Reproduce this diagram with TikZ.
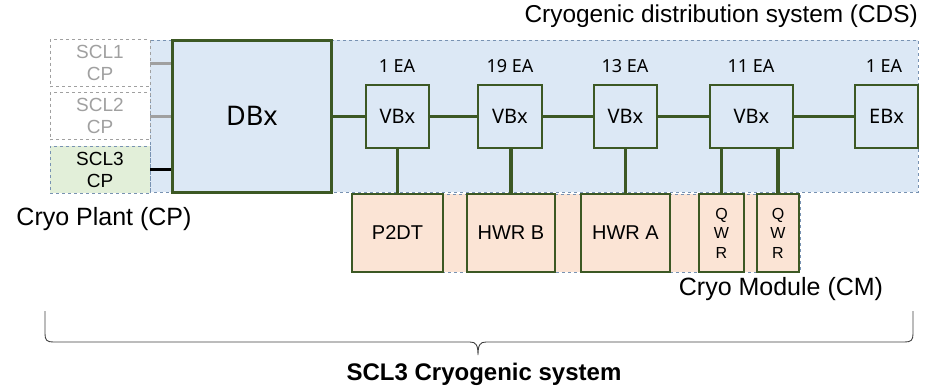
\documentclass[tikz,border=0pt]{standalone}
\usepackage{fontspec}
\setmainfont{Liberation Sans}
\newfontfamily\cdsfont{Noto Sans}
\definecolor{cdsblue}{RGB}{220,232,245}
\definecolor{cdsedge}{RGB}{120,146,178}
\definecolor{pipegreen}{RGB}{60,88,36}
\definecolor{cmpeach}{RGB}{251,228,213}
\definecolor{cpgreen}{RGB}{226,239,217}
\definecolor{cpgray}{RGB}{160,160,160}
\usetikzlibrary{positioning}

\begin{document}
\begin{tikzpicture}[
  x=1pt,y=-1pt,
  every node/.style={inner sep=0pt},
  vbox/.style={draw=pipegreen,line width=2pt,fill=cdsblue,minimum width=63pt,minimum height=63pt,font=\cdsfont\fontsize{20}{24}\selectfont},
  cmbox/.style={draw=pipegreen,line width=2pt,fill=cmpeach,minimum height=78pt,align=center,font=\fontsize{20}{24}\selectfont},
  qwrbox/.style={cmbox,font=\fontsize{16}{19.5}\selectfont},
  cpbox/.style={draw=cpgray,dashed,fill=white,minimum width=100pt,minimum height=47pt,align=center,text=cpgray,font=\fontsize{19}{22}\selectfont},
  pipe/.style={draw=pipegreen,line width=3.6pt},
  ealabel/.style={font=\cdsfont\fontsize{18}{22}\selectfont},
  title/.style={font=\fontsize{25}{28}\selectfont},
]
  \useasboundingbox (0,0) rectangle (930,391);

  % CDS and CM regions
  \draw[cdsedge,dashed,fill=cdsblue,line width=0.9pt] (150,40) rectangle (918,192);
  \draw[cdsedge,dashed,fill=cmpeach,line width=0.9pt] (352,194) rectangle (800,272);
  \node[title,font=\fontsize{24.4}{28}\selectfont,anchor=east] (cdslbl) at (918,16) {Cryogenic distribution system (CDS)};
  \node[title] (cmlbl) at (781,289) {Cryo Module (CM)};

  % Cryo plants
  \node[cpbox] (cp1) at (100,63) {SCL1\\CP};
  \node[cpbox] (cp2) at (100,116) {SCL2\\CP};
  \node[cpbox,fill=cpgreen,draw=cdsedge,text=black] (cp3) at (100,169.5) {SCL3\\CP};
  \node[title] (cplbl) at (104,219) {Cryo Plant (CP)};

  % Distribution box
  \node[draw=pipegreen,line width=3pt,fill=cdsblue,minimum width=159pt,minimum height=152pt,
        font=\cdsfont\fontsize{27}{30}\selectfont] (dbx) at (252,116) {DBx};

  \draw[cpgray,line width=3pt] (cp1.east) -- (cp1.east -| dbx.west);
  \draw[cpgray,line width=3pt] (cp2.east) -- (cp2.east -| dbx.west);
  \draw[black,line width=3pt] (cp3.east) -- (cp3.east -| dbx.west);

  % Valve boxes and end box
  \node[vbox] (vb1) at (397.5,116.5) {VBx};
  \node[vbox,minimum width=64pt] (vb2) at (510,116.5) {VBx};
  \node[vbox] (vb3) at (625.5,116.5) {VBx};
  \node[vbox,minimum width=83pt] (vb4) at (751.5,116.5) {VBx};
  \node[vbox] (ebx) at (886.5,116.5) {EBx};

  \node[ealabel] (ea1) at (397,66) {1 EA};
  \node[ealabel] (ea2) at (510,66) {19 EA};
  \node[ealabel] (ea3) at (625,66) {13 EA};
  \node[ealabel] (ea4) at (751,66) {11 EA};
  \node[ealabel] (ea5) at (884,66) {1 EA};

  \draw[pipe] (dbx.east |- vb1) -- (vb1);
  \draw[pipe] (vb1) -- (vb2);
  \draw[pipe] (vb2) -- (vb3);
  \draw[pipe] (vb3) -- (vb4);
  \draw[pipe] (vb4) -- (ebx);

  % Cryo modules
  \node[cmbox,minimum width=91pt] (p2dt) at (397.5,233) {P2DT};
  \node[cmbox,minimum width=88pt] (hwrb) at (511,233) {HWR B};
  \node[cmbox,minimum width=89pt] (hwra) at (625.5,233) {HWR A};
  \node[qwrbox,minimum width=45pt] (qwr1) at (721.5,233) {Q\\W\\R};
  \node[qwrbox,minimum width=42pt] (qwr2) at (778,233) {Q\\W\\R};

  \draw[pipe] (vb1) -- (p2dt);
  \draw[pipe] (vb2.south -| hwrb.north) -- (hwrb.north);
  \draw[pipe] (vb3) -- (hwra);
  \draw[pipe] (vb4.south -| qwr1.north) -- (qwr1.north);
  \draw[pipe] (vb4.south -| qwr2.north) -- (qwr2.north);

  % Brace
  \draw[black!75,line width=0.9pt]
    (45,311) -- (45,334) .. controls (45,340) and (47,342) .. (53,342)
    -- (470,342) .. controls (476,342) and (478,345) .. (478,355)
    .. controls (478,345) and (480,342) .. (486,342)
    -- (905,342) .. controls (911,342) and (913,340) .. (913,334) -- (913,311);
  \node[font=\bfseries\fontsize{24}{27}\selectfont] (syslbl) at (484,374) {SCL3 Cryogenic system};
\end{tikzpicture}
\end{document}
